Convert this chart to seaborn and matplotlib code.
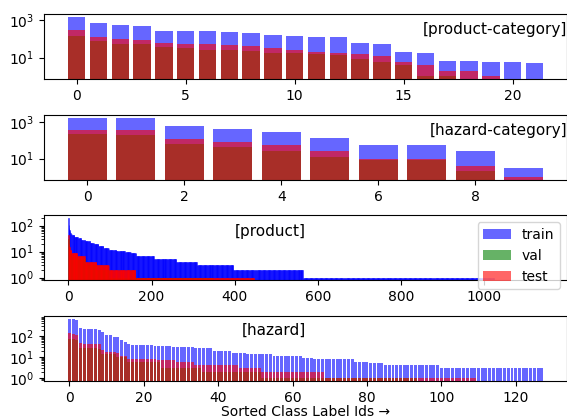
import numpy as np
import matplotlib
matplotlib.use("Agg")
import matplotlib.pyplot as plt
import seaborn as sns

# [product-category] class counts, sorted by train size
pc_train = [1520, 690, 537, 474, 258, 258, 258, 228, 200, 164, 145, 123, 123, 58, 52, 19, 17, 7, 7, 6, 6, 5]
pc_val = [145, 75, 54, 54, 36, 33, 26, 26, 22, 17, 18, 15, 14, 9, 6, 4, 1, 1, 0, 0, 0, 0]
pc_test = [288, 123, 96, 85, 59, 54, 54, 46, 40, 33, 25, 19, 17, 15, 12, 6, 4, 2, 2, 1, 0, 0]

# [hazard-category]
hc_train = [1790, 1790, 580, 400, 273, 128, 53, 53, 25, 3]
hc_val = [213, 188, 61, 42, 28, 13, 8, 8, 2, 0]
hc_test = [355, 355, 113, 78, 53, 25, 10, 10, 4, 1]

# [product] - 1024 classes, read as plateaus (count, number of classes)
p_train_levels = [195, 110, 83, 70, 60, 53, 47, 42, 36, 32, 28, 25, 22, 19, 16, 14, 12, 11, 10, 9, 7, 5, 4, 3, 2, 1]
p_train_runs = [1, 1, 1, 1, 1, 1, 3, 6, 8, 8, 10, 12, 10, 10, 12, 13, 18, 20, 15, 13, 42, 54, 49, 88, 167, 460]
p_val_levels = [30, 14, 10, 8, 6, 5, 3, 2, 1, 0]
p_val_runs = [1, 1, 2, 4, 14, 18, 28, 30, 250, 676]
p_test_levels = [42, 20, 15, 12, 9, 7, 4, 3, 2, 1, 0]
p_test_runs = [1, 1, 2, 4, 14, 18, 28, 30, 64, 285, 577]

# [hazard] - 128 classes
h_train_levels = [650, 590, 236, 220, 183, 153, 107, 89, 62, 52, 43, 38, 32, 29, 27, 20, 16, 14, 11, 9, 8, 6, 5, 4, 3]
h_train_runs = [2, 1, 1, 4, 1, 1, 2, 2, 1, 1, 1, 6, 5, 6, 5, 5, 4, 7, 8, 3, 11, 4, 4, 15, 28]
h_val_levels = [74, 62, 27, 24, 14, 10, 6, 3, 2, 1, 0]
h_val_runs = [2, 1, 5, 1, 4, 3, 9, 11, 16, 42, 34]
h_test_levels = [142, 125, 110, 46, 43, 40, 21, 18, 16, 11, 8, 7, 6, 4, 3, 2, 1, 0]
h_test_runs = [1, 1, 1, 1, 4, 1, 1, 3, 1, 2, 8, 5, 5, 12, 6, 17, 41, 18]

p_train = np.repeat(p_train_levels, p_train_runs)
p_val = np.repeat(p_val_levels, p_val_runs)
p_test = np.repeat(p_test_levels, p_test_runs)
h_train = np.repeat(h_train_levels, h_train_runs)
h_val = np.repeat(h_val_levels, h_val_runs)
h_test = np.repeat(h_test_levels, h_test_runs)


def draw(ax, train, val, test, dense=False):
    ids = np.arange(len(train))
    for vals, c, lab in [(train, "blue", "train"), (val, "green", "val"), (test, "red", "test")]:
        # the 1000+ thin bars stack up into a solid colour, edges reproduce that
        edge = c if dense else "none"
        sns.barplot(x=ids, y=np.asarray(vals, dtype=float), color=c, alpha=0.6,
                    saturation=1, native_scale=True, errorbar=None,
                    linewidth=0.6 if dense else 0, edgecolor=edge, label=lab, ax=ax)
    ax.set_yscale("log")
    ax.set_xlabel("")
    ax.set_ylabel("")
    if ax.get_legend() is not None:
        ax.get_legend().remove()


fig, axes = plt.subplots(4, 1, figsize=(5.67, 4.19), dpi=100)
fig.subplots_adjust(left=0.078, right=1.0, top=0.9666, bottom=0.0905, hspace=0.54)

draw(axes[0], pc_train, pc_val, pc_test)
axes[0].text(1.0, 0.77, "[product-category]", transform=axes[0].transAxes,
             ha="right", va="center", fontsize=11)

draw(axes[1], hc_train, hc_val, hc_test)
axes[1].text(1.0, 0.76, "[hazard-category]", transform=axes[1].transAxes,
             ha="right", va="center", fontsize=11)

draw(axes[2], p_train, p_val, p_test, dense=True)
axes[2].set_xlim(-58, 1199)
axes[2].text(0.5, 0.75, "[product]", transform=axes[2].transAxes,
             ha="right", va="center", fontsize=11)
handles, labels = axes[2].get_legend_handles_labels()
leg = axes[2].legend(handles, labels, loc="upper right")
for h in leg.legend_handles:
    h.set_edgecolor("none")

draw(axes[3], h_train, h_val, h_test)
axes[3].text(0.5, 0.77, "[hazard]", transform=axes[3].transAxes,
             ha="right", va="center", fontsize=11)
axes[3].set_xlabel("Sorted Class Label Ids →", labelpad=0)

fig.savefig("out.png", dpi=100)
